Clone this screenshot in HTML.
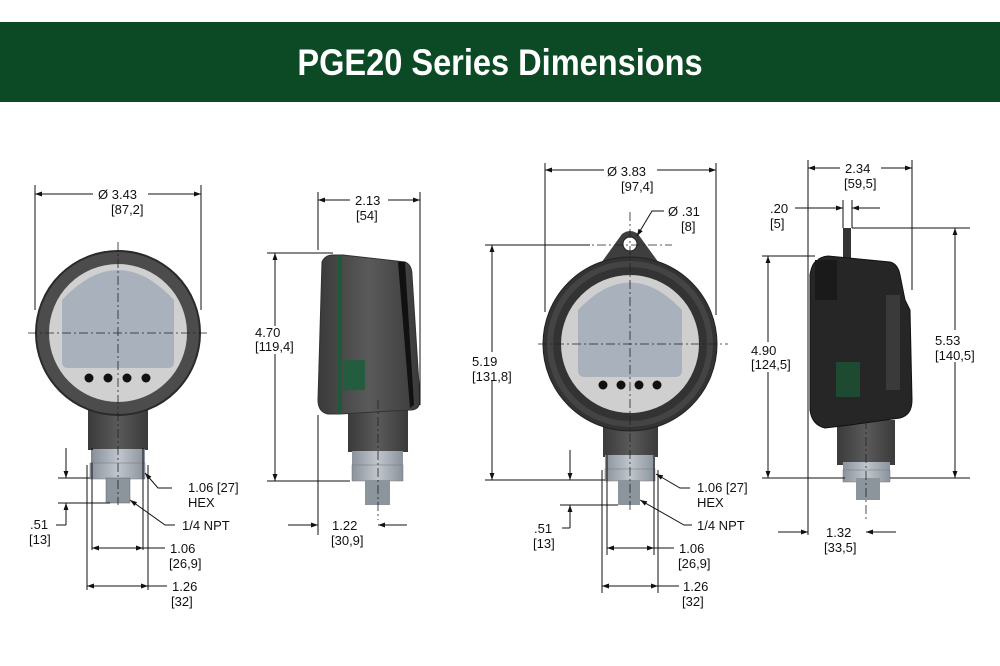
<!DOCTYPE html>
<html><head><style>
html,body{margin:0;padding:0;background:#fff;}
svg{display:block;}
text{font-family:"Liberation Sans",Arial,sans-serif;font-size:13px;fill:#111;}
.d{stroke:#111;stroke-width:1;fill:none;}
.c{stroke:#222;stroke-width:0.8;stroke-dasharray:9 3 2 3;fill:none;}
</style></head><body>
<svg width="1000" height="666" viewBox="0 0 1000 666">
<defs>
<marker id="a" viewBox="0 0 10 10" refX="10" refY="5" markerWidth="10" markerHeight="7" orient="auto-start-reverse" markerUnits="userSpaceOnUse"><path d="M0,1.5L10,5L0,8.5z" fill="#111"/></marker>
<linearGradient id="g1" x1="0" x2="1"><stop offset="0" stop-color="#3a3a3a"/><stop offset=".5" stop-color="#5a5a5a"/><stop offset="1" stop-color="#3a3a3a"/></linearGradient>
<linearGradient id="g2" x1="0" x2="1"><stop offset="0" stop-color="#8a929c"/><stop offset=".5" stop-color="#c0c6cc"/><stop offset="1" stop-color="#8a929c"/></linearGradient>
</defs>
<rect x="0" y="22" width="1000" height="80" fill="#0b4a24"/>
<text x="0" y="0" text-anchor="middle" transform="translate(500,75) scale(0.88,1)" style="font-size:37px;font-weight:bold;fill:#fff">PGE20 Series Dimensions</text>

<!-- VIEW 1 -->
<rect x="88" y="400" width="60" height="50" fill="url(#g1)"/>
<rect x="93" y="449" width="52" height="16" fill="url(#g2)"/>
<rect x="90" y="463" width="55" height="16" fill="url(#g2)" stroke="#777" stroke-width=".5"/>
<rect x="106" y="478" width="24" height="25" fill="#8c949c" stroke="#666" stroke-width=".5"/>
<circle cx="118" cy="333" r="82" fill="#4c4c4c" stroke="#2a2a2a" stroke-width="2"/>
<circle cx="118" cy="333" r="69" fill="#d0d0d0"/>
<path d="M62 300 Q118 240 174 300 L174 362 Q174 368 168 368 L68 368 Q62 368 62 362Z" fill="#a9b1bc"/>
<circle cx="89" cy="378" r="4.5" fill="#111"/><circle cx="108" cy="378" r="4.5" fill="#111"/><circle cx="127" cy="378" r="4.5" fill="#111"/><circle cx="146" cy="378" r="4.5" fill="#111"/>
<line class="c" x1="118" y1="242" x2="118" y2="505"/><line class="c" x1="28" y1="333" x2="208" y2="333"/>
<line class="d" x1="35" y1="185" x2="35" y2="310"/><line class="d" x1="201" y1="185" x2="201" y2="310"/>
<line class="d" x1="35" y1="194" x2="93" y2="194" marker-start="url(#a)"/><line class="d" x1="148" y1="194" x2="201" y2="194" marker-end="url(#a)"/>
<text x="98" y="199">Ø 3.43</text><text x="111" y="214">[87,2]</text>
<line class="d" x1="58" y1="478" x2="90" y2="478"/><line class="d" x1="58" y1="503" x2="110" y2="503"/>
<line class="d" x1="66" y1="448" x2="66" y2="478" marker-end="url(#a)"/><line class="d" x1="66" y1="525" x2="66" y2="503" marker-end="url(#a)"/><line class="d" x1="56" y1="525" x2="66" y2="525"/>
<text x="30" y="529">.51</text><text x="29" y="544">[13]</text>
<line class="d" x1="92" y1="448" x2="92" y2="550"/><line class="d" x1="143" y1="448" x2="143" y2="550"/>
<line class="d" x1="87" y1="465" x2="87" y2="590"/><line class="d" x1="148" y1="465" x2="148" y2="590"/>
<line class="d" x1="92" y1="548" x2="143" y2="548" marker-start="url(#a)" marker-end="url(#a)"/><line class="d" x1="143" y1="548" x2="165" y2="548"/>
<text x="170" y="553">1.06</text><text x="169" y="568">[26,9]</text>
<line class="d" x1="87" y1="586" x2="148" y2="586" marker-start="url(#a)" marker-end="url(#a)"/><line class="d" x1="148" y1="586" x2="167" y2="586"/>
<text x="172" y="591">1.26</text><text x="171" y="606">[32]</text>
<polyline class="d" points="172,488 158,488 145,473" marker-end="url(#a)"/>
<text x="188" y="492">1.06 [27]</text><text x="188" y="507">HEX</text>
<polyline class="d" points="175,525 165,525 130,500" marker-end="url(#a)"/>
<text x="182" y="530">1/4 NPT</text>

<!-- VIEW 2 -->
<rect x="348" y="405" width="60" height="47" fill="url(#g1)"/>
<rect x="352" y="451" width="51" height="16" fill="url(#g2)"/>
<rect x="352" y="465" width="51" height="16" fill="url(#g2)" stroke="#777" stroke-width=".5"/>
<rect x="365" y="480" width="25" height="25" fill="#8c949c"/>
<path d="M322 262 Q325 255 333 255 L343 255 L405 262 Q412 265 412 275 L420 400 Q420 410 410 410 L340 414 L328 414 Q318 412 318 400Z" fill="url(#g1)" stroke="#333"/>
<rect x="338" y="256" width="4" height="158" fill="#1e5a3a"/>
<rect x="343" y="360" width="22" height="30" fill="#245c40"/>
<path d="M398 262 L405 262 L414 405 L410 408Z" fill="#111"/>
<line class="c" x1="378" y1="400" x2="378" y2="520"/>
<line class="d" x1="318" y1="192" x2="318" y2="250"/><line class="d" x1="420" y1="192" x2="420" y2="405"/>
<line class="d" x1="318" y1="200" x2="350" y2="200" marker-start="url(#a)"/><line class="d" x1="388" y1="200" x2="420" y2="200" marker-end="url(#a)"/>
<text x="355" y="205">2.13</text><text x="356" y="220">[54]</text>
<line class="d" x1="267" y1="253" x2="333" y2="253"/><line class="d" x1="267" y1="481" x2="350" y2="481"/>
<line class="d" x1="275" y1="253" x2="275" y2="326" marker-start="url(#a)"/><line class="d" x1="275" y1="354" x2="275" y2="481" marker-end="url(#a)"/>
<text x="255" y="337">4.70</text><text x="255" y="351">[119,4]</text>
<line class="d" x1="318" y1="415" x2="318" y2="535"/>
<line class="d" x1="288" y1="525" x2="318" y2="525" marker-end="url(#a)"/><line class="d" x1="407" y1="525" x2="378" y2="525" marker-end="url(#a)"/>
<text x="332" y="530">1.22</text><text x="331" y="545">[30,9]</text>

<!-- VIEW 3 -->
<rect x="603" y="415" width="55" height="42" fill="url(#g1)"/>
<rect x="605" y="455" width="50" height="17" fill="url(#g2)"/>
<rect x="605" y="469" width="50" height="12" fill="url(#g2)" stroke="#777" stroke-width=".5"/>
<rect x="618" y="480" width="22" height="25" fill="#8c949c"/>
<path d="M596 270 L622 234 Q630 228 638 234 L664 270Z" fill="#3e3e3e"/>
<circle cx="630" cy="344" r="87" fill="#333" stroke="#222"/>
<circle cx="630" cy="344" r="80" fill="none" stroke="#444" stroke-width="6"/>
<circle cx="630" cy="244" r="7" fill="#fff" stroke="#222"/>
<circle cx="630" cy="344" r="69" fill="#cfcfcf"/>
<path d="M578 310 Q630 255 682 310 L682 370 Q682 377 675 377 L585 377 Q578 377 578 370Z" fill="#a9b1bc"/>
<circle cx="603" cy="385" r="4.5" fill="#111"/><circle cx="621" cy="385" r="4.5" fill="#111"/><circle cx="639" cy="385" r="4.5" fill="#111"/><circle cx="657" cy="385" r="4.5" fill="#111"/>
<line class="c" x1="630" y1="212" x2="630" y2="510"/><line class="c" x1="538" y1="344" x2="728" y2="344"/><line class="c" x1="580" y1="245" x2="672" y2="245"/>
<line class="d" x1="545" y1="163" x2="545" y2="312"/><line class="d" x1="716" y1="163" x2="716" y2="315"/>
<line class="d" x1="545" y1="170" x2="604" y2="170" marker-start="url(#a)"/><line class="d" x1="657" y1="170" x2="716" y2="170" marker-end="url(#a)"/>
<text x="607" y="176">Ø 3.83</text><text x="621" y="191">[97,4]</text>
<polyline class="d" points="664,211 652,211 637,236" marker-end="url(#a)"/>
<text x="668" y="216">Ø .31</text><text x="681" y="231">[8]</text>
<line class="d" x1="485" y1="245" x2="590" y2="245"/><line class="d" x1="485" y1="480" x2="605" y2="480"/>
<line class="d" x1="492" y1="245" x2="492" y2="352" marker-start="url(#a)"/><line class="d" x1="492" y1="380" x2="492" y2="480" marker-end="url(#a)"/>
<text x="472" y="366">5.19</text><text x="472" y="381">[131,8]</text>
<line class="d" x1="570" y1="450" x2="570" y2="480" marker-end="url(#a)"/><line class="d" x1="560" y1="505" x2="618" y2="505"/>
<line class="d" x1="570" y1="528" x2="570" y2="505" marker-end="url(#a)"/><line class="d" x1="562" y1="528" x2="570" y2="528"/>
<text x="534" y="533">.51</text><text x="533" y="548">[13]</text>
<line class="d" x1="607" y1="455" x2="607" y2="555"/><line class="d" x1="654" y1="455" x2="654" y2="555"/>
<line class="d" x1="602" y1="470" x2="602" y2="593"/><line class="d" x1="658" y1="470" x2="658" y2="593"/>
<line class="d" x1="607" y1="548" x2="654" y2="548" marker-start="url(#a)" marker-end="url(#a)"/><line class="d" x1="654" y1="548" x2="674" y2="548"/>
<text x="679" y="553">1.06</text><text x="678" y="568">[26,9]</text>
<line class="d" x1="602" y1="586" x2="658" y2="586" marker-start="url(#a)" marker-end="url(#a)"/><line class="d" x1="658" y1="586" x2="679" y2="586"/>
<text x="683" y="591">1.26</text><text x="682" y="606">[32]</text>
<polyline class="d" points="690,488 680,488 656,474" marker-end="url(#a)"/>
<text x="697" y="492">1.06 [27]</text><text x="697" y="507">HEX</text>
<polyline class="d" points="692,525 684,525 640,500" marker-end="url(#a)"/>
<text x="697" y="530">1/4 NPT</text>

<!-- VIEW 4 -->
<rect x="837" y="420" width="58" height="45" fill="url(#g1)"/>
<rect x="843" y="462" width="47" height="16" fill="url(#g2)"/>
<rect x="843" y="470" width="47" height="12" fill="url(#g2)" stroke="#777" stroke-width=".5"/>
<rect x="856" y="478" width="24" height="22" fill="#8c949c"/>
<rect x="843" y="228" width="8" height="32" fill="#333"/>
<path d="M818 260 Q820 257 828 256 L890 262 Q898 264 900 275 L905 300 L910 310 L912 400 Q912 415 900 418 L850 425 L825 428 Q812 425 810 410 L810 275 Q812 262 818 260Z" fill="#262626" stroke="#111"/>
<rect x="815" y="260" width="22" height="40" fill="#1a1a1a"/>
<rect x="886" y="295" width="14" height="95" fill="#3a3a3a"/>
<rect x="836" y="362" width="24" height="35" fill="#1e4a32"/>
<line class="c" x1="866" y1="420" x2="866" y2="520"/>
<line class="d" x1="808" y1="160" x2="808" y2="535"/><line class="d" x1="912" y1="160" x2="912" y2="290"/>
<line class="d" x1="808" y1="168" x2="840" y2="168" marker-start="url(#a)"/><line class="d" x1="881" y1="168" x2="912" y2="168" marker-end="url(#a)"/>
<text x="845" y="173">2.34</text><text x="844" y="188">[59,5]</text>
<line class="d" x1="843" y1="200" x2="843" y2="228"/><line class="d" x1="852" y1="200" x2="852" y2="228"/>
<line class="d" x1="795" y1="208" x2="843" y2="208" marker-end="url(#a)"/><line class="d" x1="880" y1="208" x2="852" y2="208" marker-end="url(#a)"/>
<text x="770" y="213">.20</text><text x="770" y="228">[5]</text>
<line class="d" x1="762" y1="256" x2="815" y2="256"/><line class="d" x1="762" y1="478" x2="845" y2="478"/>
<line class="d" x1="768" y1="256" x2="768" y2="342" marker-start="url(#a)"/><line class="d" x1="768" y1="372" x2="768" y2="478" marker-end="url(#a)"/>
<text x="751" y="355">4.90</text><text x="751" y="369">[124,5]</text>
<line class="d" x1="852" y1="228" x2="970" y2="228"/><line class="d" x1="890" y1="478" x2="970" y2="478"/>
<line class="d" x1="955" y1="228" x2="955" y2="330" marker-start="url(#a)"/><line class="d" x1="955" y1="362" x2="955" y2="478" marker-end="url(#a)"/>
<text x="935" y="345">5.53</text><text x="935" y="360">[140,5]</text>
<line class="d" x1="778" y1="532" x2="808" y2="532" marker-end="url(#a)"/><line class="d" x1="896" y1="532" x2="866" y2="532" marker-end="url(#a)"/>
<text x="826" y="537">1.32</text><text x="824" y="552">[33,5]</text>
</svg>
</body></html>
